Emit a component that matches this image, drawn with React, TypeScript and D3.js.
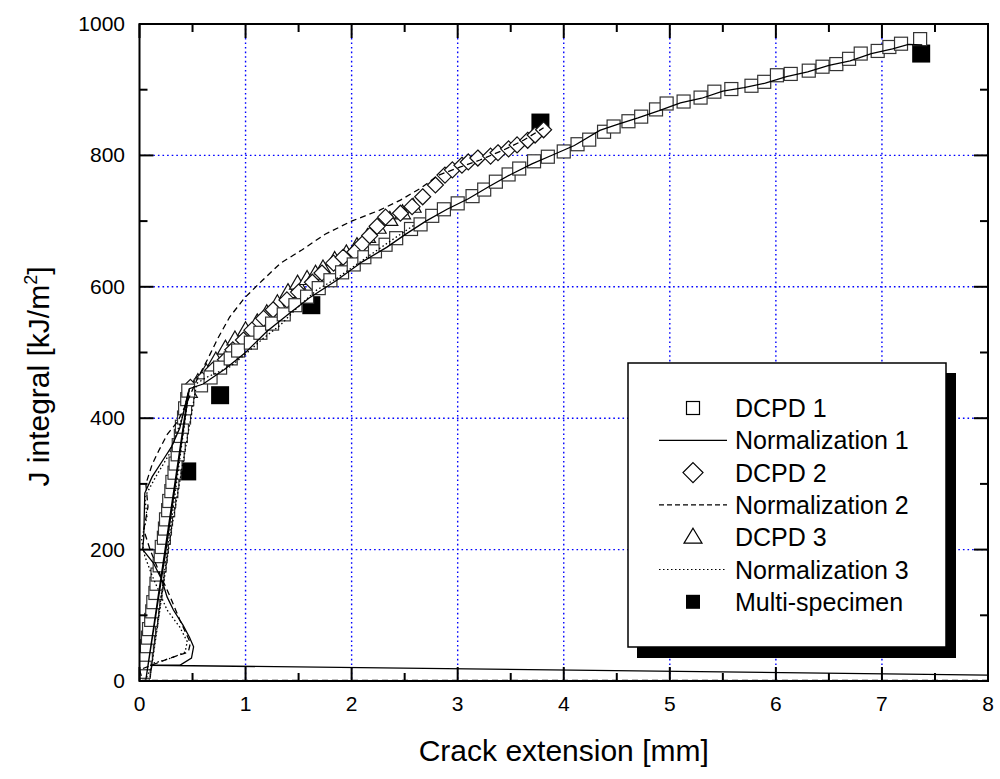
import * as d3 from 'd3';

type Pt = [number, number];

const xTicks = [0, 1, 2, 3, 4, 5, 6, 7, 8];
const yTicks = [0, 200, 400, 600, 800, 1000];

// DCPD 1 (open squares)
const dcpd1: Pt[] = [
  [0.03, 2], [0.04, 14], [0.05, 27], [0.06, 40], [0.07, 53], [0.08, 66], [0.09, 79], [0.11, 93],
  [0.12, 106], [0.13, 120], [0.15, 134], [0.16, 148], [0.17, 162], [0.19, 176], [0.2, 190], [0.21, 204],
  [0.23, 218], [0.24, 232], [0.25, 246], [0.27, 260], [0.28, 274], [0.3, 289], [0.31, 303], [0.33, 317],
  [0.34, 331], [0.36, 345], [0.37, 359], [0.39, 373], [0.4, 387], [0.42, 401], [0.43, 415], [0.45, 429],
  [0.46, 442], [0.58, 450], [0.67, 462], [0.76, 477], [0.86, 491], [0.93, 503], [1.05, 515], [1.14, 530],
  [1.25, 544], [1.36, 558], [1.47, 572], [1.58, 585], [1.69, 598], [1.8, 610], [1.91, 622], [2.02, 634],
  [2.12, 645], [2.22, 654], [2.32, 664], [2.42, 674], [2.56, 688], [2.65, 695], [2.76, 708], [2.87, 718],
  [3.0, 727], [3.14, 738], [3.25, 748], [3.36, 760], [3.48, 771], [3.58, 780], [3.72, 791], [3.85, 798],
  [4.0, 806], [4.13, 817], [4.24, 824], [4.38, 836], [4.47, 844], [4.61, 852], [4.73, 859], [4.87, 870],
  [4.97, 879], [5.13, 882], [5.29, 888], [5.42, 897], [5.58, 901], [5.77, 906], [5.89, 912], [6.01, 922],
  [6.14, 924], [6.31, 929], [6.44, 935], [6.57, 939], [6.69, 947], [6.8, 955], [6.96, 959], [7.07, 965],
  [7.18, 970], [7.36, 977],
];

// DCPD 2 (open diamonds)
const dcpd2: Pt[] = [
  [0.48, 447], [0.59, 458], [0.69, 473], [0.81, 489], [0.88, 504], [0.98, 519], [1.06, 534], [1.17, 552],
  [1.26, 565], [1.39, 580], [1.5, 592], [1.63, 607], [1.72, 621], [1.83, 636], [1.92, 645], [2.03, 653],
  [2.1, 665], [2.17, 678], [2.24, 692], [2.32, 706], [2.46, 712], [2.57, 722], [2.67, 737], [2.79, 755],
  [2.88, 770], [2.95, 778], [3.04, 785], [3.1, 790], [3.19, 796], [3.31, 799], [3.38, 804], [3.48, 810],
  [3.56, 816], [3.66, 823], [3.73, 831], [3.81, 839],
];

// DCPD 3 (open triangles)
const dcpd3: Pt[] = [
  [0.47, 440], [0.55, 455], [0.63, 470], [0.72, 488], [0.81, 506], [0.9, 520], [1.0, 534], [1.11, 546],
  [1.2, 560], [1.3, 575], [1.4, 592], [1.49, 605], [1.58, 612], [1.66, 620], [1.73, 628], [1.84, 641],
  [1.95, 651], [2.05, 662], [2.15, 676], [2.25, 690], [2.36, 702], [2.48, 712], [2.58, 722],
];

// Normalization 1 (solid)
const norm1: Pt[] = [
  [8.0, 9], [0.1, 24], [0.38, 24], [0.49, 35], [0.51, 52], [0.47, 67], [0.41, 85], [0.32, 108],
  [0.26, 128], [0.21, 154], [0.13, 180], [0.03, 200], [0.04, 219], [0.05, 286], [0.12, 311], [0.22, 336],
  [0.3, 356], [0.38, 385], [0.46, 440], [0.06, 2], [0.25, 200], [0.47, 445], [0.6, 452], [0.8, 474],
  [1.0, 500], [1.2, 532], [1.4, 558], [1.6, 583], [1.86, 610], [2.1, 638], [2.33, 660], [2.5, 679],
  [2.7, 700], [2.9, 718], [3.1, 734], [3.3, 753], [3.5, 771], [3.7, 787], [3.9, 801], [4.1, 815],
  [4.34, 838], [4.5, 847], [4.7, 857], [4.9, 868], [5.1, 880], [5.3, 887], [5.5, 898], [5.7, 903],
  [5.9, 910], [6.1, 920], [6.3, 927], [6.5, 937], [6.7, 944], [6.9, 955], [7.1, 962], [7.25, 969],
  [7.38, 968],
];

// Normalization 2 (dashed)
const norm2: Pt[] = [
  [8.0, 1], [0.03, 1], [0.0, 17], [0.29, 35], [0.46, 44], [0.48, 58], [0.38, 93], [0.29, 128],
  [0.2, 160], [0.1, 200], [0.04, 230], [0.08, 265], [0.06, 300], [0.12, 330], [0.18, 350], [0.26, 375],
  [0.36, 395], [0.45, 425], [0.54, 458], [0.64, 489], [0.74, 522], [0.85, 554], [0.99, 583], [1.16, 610],
  [1.33, 636], [1.53, 656], [1.75, 680], [2.0, 700], [2.27, 717], [2.46, 732], [2.65, 750], [2.82, 770],
  [3.02, 782], [3.21, 793], [3.43, 808], [3.62, 823], [3.81, 842],
];

// Normalization 3 (dotted)
const norm3: Pt[] = [
  [0.05, 0], [0.13, 27], [0.3, 35], [0.43, 44], [0.45, 60], [0.38, 82], [0.26, 108], [0.19, 134],
  [0.12, 160], [0.05, 190], [0.02, 215], [0.07, 250], [0.05, 280], [0.15, 310], [0.28, 345], [0.4, 400],
  [0.47, 445], [0.1, 5], [0.3, 230], [0.54, 453], [0.63, 462], [0.85, 478], [1.01, 499], [1.17, 522],
  [1.33, 542], [1.48, 567], [1.67, 595], [1.86, 613], [2.1, 640], [2.35, 668], [2.6, 695],
];

// Multi-specimen (filled squares)
const multi: Pt[] = [[0.45, 319], [0.76, 435], [1.62, 572], [3.78, 850], [7.37, 955]];

const legendItems = [
  { label: 'DCPD 1', kind: 'square' },
  { label: 'Normalization 1', kind: 'solid' },
  { label: 'DCPD 2', kind: 'diamond' },
  { label: 'Normalization 2', kind: 'dashed' },
  { label: 'DCPD 3', kind: 'triangle' },
  { label: 'Normalization 3', kind: 'dotted' },
  { label: 'Multi-specimen', kind: 'filled' },
];

const diamond = (r: number) => `M0,${-r}L${r},0L0,${r}L${-r},0Z`;
const triangle = (w: number, h: number) => `M0,${-h * 0.6}L${w / 2},${h * 0.4}L${-w / 2},${h * 0.4}Z`;

export default function App() {
  const left = 139.5, right = 988, top = 24, bottom = 681;
  const x = d3.scaleLinear().domain([0, 8]).range([left, right]);
  const y = d3.scaleLinear().domain([0, 1000]).range([bottom, top]);
  const line = d3.line<Pt>().x(d => x(d[0])).y(d => y(d[1]));
  const font = 'Liberation Sans, Arial, sans-serif';

  const xMinor = x.ticks(16).filter(t => !xTicks.includes(t));
  const yMinor = y.ticks(10).filter(t => !yTicks.includes(t));

  return (
    <svg width={1000} height={779} style={{ position: 'absolute', left: 0, top: 0, background: '#fff' }}
      fontFamily={font}>
      <defs>
        <clipPath id="plot">
          <rect x={left} y={top} width={right - left} height={bottom - top} />
        </clipPath>
      </defs>
      <rect width={1000} height={779} fill="#fff" />

      {/* grid */}
      <g stroke="#0000ff" strokeWidth={1.4} strokeDasharray="1.6,3">
        {xTicks.slice(1, -1).map(t => <line key={'gx' + t} x1={x(t)} x2={x(t)} y1={top} y2={bottom} />)}
        {yTicks.slice(1, -1).map(t => <line key={'gy' + t} y1={y(t)} y2={y(t)} x1={left} x2={right} />)}
      </g>

      <g clipPath="url(#plot)">
        {multi.map((d, i) => (
          <rect key={'m' + i} x={x(d[0]) - 9} y={y(d[1]) - 9} width={18} height={18} fill="#000" />
        ))}
        {dcpd3.map((d, i) => (
          <path key={'t' + i} d={triangle(16, 14)} transform={`translate(${x(d[0])},${y(d[1])})`}
            fill="#fff" stroke="#111" strokeWidth={1.2} />
        ))}
        {dcpd2.map((d, i) => (
          <path key={'d' + i} d={diamond(8)} transform={`translate(${x(d[0])},${y(d[1])})`}
            fill="#fff" stroke="#111" strokeWidth={1.2} />
        ))}
        {dcpd1.map((d, i) => (
          <rect key={'s' + i} x={x(d[0]) - 6.5} y={y(d[1]) - 6.5} width={13} height={13}
            fill="#fff" stroke="#333" strokeWidth={1.2} />
        ))}
        <path d={line(norm1) || ''} fill="none" stroke="#000" strokeWidth={1.3} />
        <path d={line(norm2) || ''} fill="none" stroke="#000" strokeWidth={1.3} strokeDasharray="6,4" />
        <path d={line(norm3) || ''} fill="none" stroke="#000" strokeWidth={1.3} strokeDasharray="1.5,2.5" />
      </g>

      {/* frame and ticks */}
      <rect x={left} y={top} width={right - left} height={bottom - top} fill="none" stroke="#000" strokeWidth={2} />
      <g stroke="#000" strokeWidth={2}>
        {xTicks.map(t => (
          <g key={'xt' + t}>
            <line x1={x(t)} x2={x(t)} y1={bottom} y2={bottom - 14} />
            <line x1={x(t)} x2={x(t)} y1={top} y2={top + 14} />
          </g>
        ))}
        {xMinor.map(t => (
          <g key={'xm' + t}>
            <line x1={x(t)} x2={x(t)} y1={bottom} y2={bottom - 8} />
            <line x1={x(t)} x2={x(t)} y1={top} y2={top + 8} />
          </g>
        ))}
        {yTicks.map(t => (
          <g key={'yt' + t}>
            <line y1={y(t)} y2={y(t)} x1={left} x2={left + 14} />
            <line y1={y(t)} y2={y(t)} x1={right} x2={right - 14} />
          </g>
        ))}
        {yMinor.map(t => (
          <g key={'ym' + t}>
            <line y1={y(t)} y2={y(t)} x1={left} x2={left + 8} />
            <line y1={y(t)} y2={y(t)} x1={right} x2={right - 8} />
          </g>
        ))}
      </g>

      {/* tick labels */}
      <g fontSize={21} fill="#000">
        {xTicks.map(t => (
          <text key={'xl' + t} x={x(t)} y={711} textAnchor="middle">{t}</text>
        ))}
        {yTicks.map(t => (
          <text key={'yl' + t} x={125} y={y(t) + 7} textAnchor="end">{t}</text>
        ))}
      </g>

      {/* axis titles */}
      <text x={(left + right) / 2} y={761} textAnchor="middle" fontSize={30}>Crack extension [mm]</text>
      <text transform={`translate(49,${(top + bottom) / 2 + 24}) rotate(-90)`} textAnchor="middle" fontSize={30}>
        J integral [kJ/m<tspan dy={-12} fontSize={18}>2</tspan><tspan dy={12}>]</tspan>
      </text>

      {/* legend */}
      <rect x={637} y={373} width={319} height={285} fill="#000" />
      <rect x={628} y={363} width={318} height={284} fill="#fff" stroke="#000" strokeWidth={1.5} />
      {legendItems.map((it, i) => {
        const cy = 408 + i * 32.3;
        const cx = 693;
        let sym = null;
        if (it.kind === 'square') sym = <rect x={cx - 6.5} y={cy - 6.5} width={13} height={13} fill="#fff" stroke="#000" strokeWidth={1.2} />;
        else if (it.kind === 'diamond') sym = <path d={diamond(10)} transform={`translate(${cx},${cy})`} fill="#fff" stroke="#000" strokeWidth={1.2} />;
        else if (it.kind === 'triangle') sym = <path d={triangle(18, 15)} transform={`translate(${cx},${cy})`} fill="#fff" stroke="#000" strokeWidth={1.2} />;
        else if (it.kind === 'filled') sym = <rect x={cx - 7} y={cy - 7} width={14} height={14} fill="#000" />;
        else sym = <line x1={659} x2={727} y1={cy} y2={cy} stroke="#000" strokeWidth={1.2}
          strokeDasharray={it.kind === 'dashed' ? '5,3' : it.kind === 'dotted' ? '1.5,2.5' : undefined} />;
        return (
          <g key={it.label}>
            {sym}
            <text x={735} y={cy + 9} fontSize={25}>{it.label}</text>
          </g>
        );
      })}
    </svg>
  );
}
